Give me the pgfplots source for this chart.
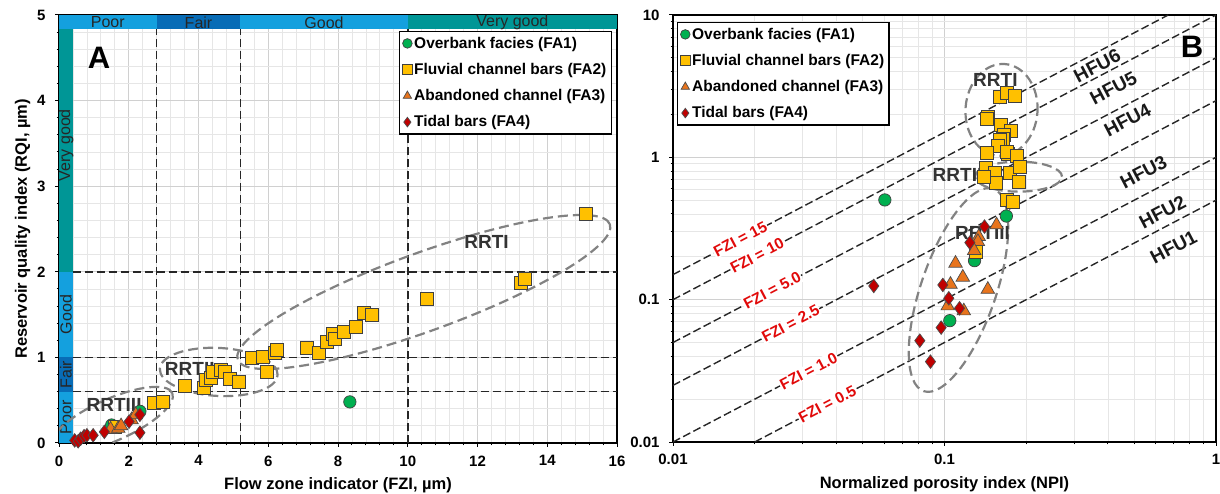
\documentclass[border=0pt]{standalone}
\usepackage{fontspec}
\setmainfont{Liberation Sans}
\usepackage{pgfplots}
\pgfplotsset{compat=1.18}
\usetikzlibrary{shapes.geometric}

\definecolor{bandlight}{RGB}{20,160,222}
\definecolor{banddark}{RGB}{8,108,182}
\definecolor{bandteal}{RGB}{0,150,150}
\definecolor{fagreen}{RGB}{0,176,80}
\definecolor{fagold}{RGB}{255,192,0}
\definecolor{faorange}{RGB}{232,116,28}
\definecolor{fared}{RGB}{192,0,0}
\definecolor{rrtgray}{RGB}{130,130,130}
\definecolor{majgrid}{RGB}{208,208,208}
\definecolor{mingrid}{RGB}{230,230,230}
\definecolor{fzired}{RGB}{225,10,10}

\newcommand{\fs}[1]{\fontsize{#1}{#1}\selectfont}

\pgfplotsset{
  fa1/.style={only marks, mark=*, mark size=6.2pt,
    mark options={fill=fagreen, draw=black!75, line width=0.7pt}},
  fa2/.style={only marks, mark=square*, mark size=6.5pt,
    mark options={fill=fagold, draw=black!75, line width=0.7pt}},
  fa3/.style={only marks, mark=triangle*, mark size=7.8pt,
    mark options={fill=faorange, draw=black!70, line width=0.7pt}},
  fa4/.style={only marks, mark=diamond*, mark size=6.8pt,
    mark options={fill=fared, draw=black!70, line width=0.7pt}},
  panel/.style={
    scale only axis,
    grid=both,
    major grid style={draw=majgrid, line width=1pt},
    minor grid style={draw=mingrid, line width=0.8pt},
    axis line style={line width=1.6pt, black},
    tick align=outside, tick pos=left,
    major tick length=4pt, minor tick length=2.5pt,
    tick style={black, line width=1pt},
    ticklabel style={font=\bfseries\fs{15}},
    xticklabel style={yshift=-5pt},
    yticklabel style={xshift=-6pt},
    label style={font=\bfseries\fs{16.5}},
    xlabel style={yshift=-5pt},
    ylabel style={yshift=0pt},
    legend cell align=left,
    legend image code/.code={\draw[##1, mark size=4.8pt] plot coordinates {(0.1cm,0cm)};},
  },
  legendbox/.style={draw=black, line width=1.4pt, fill=white,
    font=\bfseries\fs{15.5}, inner xsep=3pt, inner ysep=3.5pt, row sep=9.5pt},
}

\tikzset{
  refdash/.style={black!85, line width=1.6pt, dash pattern=on 8pt off 4pt},
  fzidash/.style={black!85, line width=1.4pt, dash pattern=on 8pt off 3.5pt},
  rrt/.style={draw=rrtgray, ellipse, line width=2.2pt, dash pattern=on 10pt off 5pt, inner sep=0pt},
  rrtlabel/.style={font=\bfseries\fs{19}, text=black!80},
  bandtext/.style={font=\fs{16}, text=black!85, inner sep=0pt},
  fzilabel/.style={font=\bfseries\fs{15.5}, text=fzired, fill=white, inner sep=1pt, rotate=27.66},
  hfulabel/.style={font=\bfseries\fs{19}, text=black!90, rotate=27.66},
}

\begin{document}
\begin{tikzpicture}
\path[use as bounding box] (0pt,0pt) rectangle (1220pt,494pt);

% ---------------- Panel A: RQI versus FZI ----------------
\begin{axis}[panel,
  at={(59pt,51pt)}, anchor=south west,
  width=558pt, height=428pt,
  xmin=0, xmax=16, ymin=0, ymax=5,
  xtick={0,2,...,16}, ytick={0,1,...,5},
  minor x tick num=4, minor y tick num=4,
  /pgf/number format/assume math mode=true,
  xlabel={Flow zone indicator (FZI, µm)},
  ylabel={Reservoir quality index (RQI, µm)},
  legend style={legendbox, at={(0.991,0.963)}, anchor=north east},
]
% quality classes along the top and left edges
\fill[bandlight] (axis cs:0,4.833) rectangle (axis cs:2.8,5);
\fill[banddark]  (axis cs:2.8,4.833) rectangle (axis cs:5.2,5);
\fill[bandlight] (axis cs:5.2,4.833) rectangle (axis cs:10,5);
\fill[bandteal]  (axis cs:10,4.833) rectangle (axis cs:16,5);
\fill[bandlight] (axis cs:0,0) rectangle (axis cs:0.4,0.6);
\fill[banddark]  (axis cs:0,0.6) rectangle (axis cs:0.4,1);
\fill[bandlight] (axis cs:0,1) rectangle (axis cs:0.4,2);
\fill[bandteal]  (axis cs:0,2) rectangle (axis cs:0.4,4.833);
\node[bandtext] at (axis cs:1.4,4.912) {Poor};
\node[bandtext] at (axis cs:4.0,4.912) {Fair};
\node[bandtext] at (axis cs:7.6,4.912) {Good};
\node[bandtext] at (axis cs:13.0,4.912) {Very good};
\node[bandtext, rotate=90] at (axis cs:0.2,3.48) {Very good};
\node[bandtext, rotate=90] at (axis cs:0.2,1.5) {Good};
\node[bandtext, rotate=90] at (axis cs:0.2,0.8) {Fair};
\node[bandtext, rotate=90] at (axis cs:0.2,0.3) {Poor};
% class boundaries
\draw[refdash] (axis cs:2.8,0) -- (axis cs:2.8,4.833);
\draw[refdash] (axis cs:5.2,0) -- (axis cs:5.2,4.833);
\draw[refdash] (axis cs:10,0) -- (axis cs:10,4.833);
\draw[refdash] (axis cs:0.4,0.6) -- (axis cs:16,0.6);
\draw[refdash] (axis cs:0.4,1) -- (axis cs:16,1);
\draw[refdash] (axis cs:0.4,2) -- (axis cs:16,2);
% rock types
\node[rrt, minimum width=396pt, minimum height=78pt, rotate=20] at (axis cs:10.46,1.764) {};
\node[rrt, minimum width=118pt, minimum height=48pt, rotate=-3] at (axis cs:4.58,0.83) {};
\node[rrt, minimum width=132pt, minimum height=42pt, rotate=24] at (axis cs:1.52,0.27) {};

\addplot[fa1] coordinates {(8.34,0.48) (2.32,0.37) (1.51,0.21)};
\addlegendentry{Overbank facies (FA1)}
\addplot[fa2] coordinates {
  (1.60,0.19) (2.72,0.47) (2.97,0.48) (3.61,0.67) (4.15,0.64) (4.21,0.74)
  (4.35,0.76) (4.42,0.83) (4.64,0.86) (4.76,0.83) (4.90,0.75) (5.17,0.72)
  (5.52,0.99) (5.85,1.01) (5.95,0.83) (6.19,1.05) (6.26,1.09) (7.10,1.11)
  (7.46,1.05) (7.69,1.18) (7.86,1.28) (7.92,1.22) (8.18,1.30) (8.51,1.36)
  (8.75,1.52) (8.98,1.50) (10.55,1.68) (13.24,1.87) (13.35,1.92) (15.10,2.68)};
\addlegendentry{Fluvial channel bars (FA2)}
\addplot[fa3] coordinates {(1.48,0.16) (1.70,0.17) (1.78,0.20) (2.08,0.27) (2.20,0.33)};
\addlegendentry{Abandoned channel (FA3)}
\addplot[fa4] coordinates {
  (0.45,0.03) (0.55,0.02) (0.62,0.05) (0.72,0.08) (0.80,0.09) (0.98,0.09)
  (1.30,0.13) (2.01,0.25) (2.32,0.33) (2.32,0.12)};
\addlegendentry{Tidal bars (FA4)}

\node[rrtlabel] at (axis cs:12.26,2.35) {RRTI};
\node[rrtlabel] at (axis cs:3.75,0.86) {RRTII};
\node[rrtlabel] at (axis cs:1.58,0.44) {RRTIII};
\node[font=\bfseries\fs{31}] at (axis cs:1.15,4.50) {A};
\end{axis}

% ---------------- Panel B: RQI versus NPI ----------------
\begin{axis}[panel,
  at={(673pt,52pt)}, anchor=south west,
  width=543pt, height=427pt,
  xmode=log, ymode=log,
  xmin=0.01, xmax=1, ymin=0.01, ymax=10,
  xtick={0.01,0.1,1}, xticklabels={0.01,0.1,1},
  ytick={0.01,0.1,1,10}, yticklabels={0.01,0.1,1,10},
  minor xtick={0.02,0.03,0.04,0.05,0.06,0.07,0.08,0.09,0.2,0.3,0.4,0.5,0.6,0.7,0.8,0.9},
  minor ytick={0.02,0.03,0.04,0.05,0.06,0.07,0.08,0.09,0.2,0.3,0.4,0.5,0.6,0.7,0.8,0.9,2,3,4,5,6,7,8,9},
  xlabel={Normalized porosity index (NPI)},
  legend style={legendbox, at={(0.007,0.984)}, anchor=north west},
]
% iso-FZI lines (RQI = FZI x NPI)
\addplot[fzidash, forget plot] coordinates {(0.01,0.15) (0.6667,10)};
\addplot[fzidash, forget plot] coordinates {(0.01,0.1) (1,10)};
\addplot[fzidash, forget plot] coordinates {(0.01,0.05) (1,5)};
\addplot[fzidash, forget plot] coordinates {(0.01,0.025) (1,2.5)};
\addplot[fzidash, forget plot] coordinates {(0.01,0.01) (1,1)};
\addplot[fzidash, forget plot] coordinates {(0.02,0.01) (1,0.5)};
\node[fzilabel] at (axis cs:0.0177,0.266) {FZI = 15};
\node[fzilabel] at (axis cs:0.0204,0.204) {FZI = 10};
\node[fzilabel] at (axis cs:0.0232,0.116) {FZI = 5.0};
\node[fzilabel] at (axis cs:0.0271,0.0678) {FZI = 2.5};
\node[fzilabel] at (axis cs:0.0316,0.0316) {FZI = 1.0};
\node[fzilabel] at (axis cs:0.037,0.0185) {FZI = 0.5};
\node[hfulabel] at (axis cs:0.365,4.40) {HFU6};
\node[hfulabel] at (axis cs:0.419,3.07) {HFU5};
\node[hfulabel] at (axis cs:0.472,1.83) {HFU4};
\node[hfulabel] at (axis cs:0.541,0.79) {HFU3};
\node[hfulabel] at (axis cs:0.635,0.413) {HFU2};
\node[hfulabel] at (axis cs:0.698,0.2346) {HFU1};
% rock types
\node[rrt, minimum width=72pt, minimum height=92pt, rotate=-4] at (axis cs:0.1622,2.153) {};
\node[rrt, minimum width=87pt, minimum height=30pt] at (axis cs:0.1874,0.732) {};
\node[rrt, minimum width=214pt, minimum height=75pt, rotate=71] at (axis cs:0.1126,0.117) {};

\addplot[fa1] coordinates {(0.0603,0.502) (0.169,0.387) (0.129,0.188) (0.1046,0.0712)};
\addlegendentry{Overbank facies (FA1)}
\addplot[fa2] coordinates {
  (0.160,2.67) (0.170,2.82) (0.181,2.70) (0.1444,1.93) (0.1428,1.85)
  (0.1612,1.69) (0.176,1.54) (0.165,1.44) (0.1646,1.35) (0.1605,1.33)
  (0.1566,1.20) (0.1428,1.07) (0.171,1.06) (0.170,1.09) (0.1845,1.02)
  (0.1418,0.838) (0.1537,0.773) (0.1747,0.773) (0.189,0.86) (0.1875,0.675)
  (0.155,0.658) (0.1395,0.732) (0.170,0.502) (0.179,0.489) (0.130,0.217)};
\addlegendentry{Fluvial channel bars (FA2)}
\addplot[fa3] coordinates {
  (0.1555,0.335) (0.1337,0.277) (0.1327,0.256) (0.1286,0.221) (0.1098,0.180)
  (0.1168,0.1437) (0.1052,0.128) (0.1444,0.118) (0.1028,0.0903) (0.1178,0.0833)};
\addlegendentry{Abandoned channel (FA3)}
\addplot[fa4] coordinates {
  (0.0549,0.1248) (0.1404,0.326) (0.124,0.2516) (0.0986,0.1269) (0.1037,0.1023)
  (0.1136,0.0870) (0.0972,0.0636) (0.0811,0.0515) (0.0888,0.0367)};
\addlegendentry{Tidal bars (FA4)}

\node[rrtlabel] at (axis cs:0.154,3.50) {RRTI};
\node[rrtlabel] at (axis cs:0.1117,0.752) {RRTII};
\node[rrtlabel] at (axis cs:0.138,0.294) {RRTIII};
\node[font=\bfseries\fs{31}] at (axis cs:0.817,6.0) {B};
\end{axis}
\end{tikzpicture}
\end{document}
